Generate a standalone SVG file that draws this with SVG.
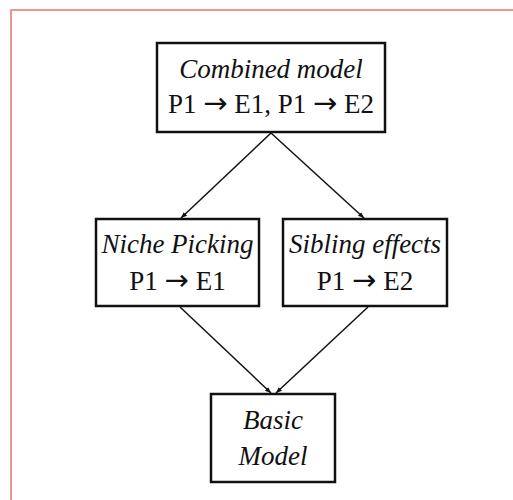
<svg xmlns="http://www.w3.org/2000/svg" width="513" height="500" viewBox="0 0 513 500">
<style>
.box{fill:#fff;stroke:#111;stroke-width:2.5}
.t{font-family:"Liberation Serif","Times New Roman",serif;font-size:27px;fill:#111;text-anchor:middle}
.i{font-style:italic}
.a{font-family:"DejaVu Sans",sans-serif;font-size:29px}
.c{stroke:#111;stroke-width:1.5;fill:none;marker-end:url(#ah)}
</style>
<defs>
<marker id="ah" viewBox="0 0 10 10" refX="10" refY="5" markerWidth="6" markerHeight="6" orient="auto" markerUnits="userSpaceOnUse">
<path d="M0,1 L10,5 L0,9 z" fill="#111"/>
</marker>
</defs>
<rect width="513" height="500" fill="#fff"/>
<path d="M11,500 V10 H513" fill="none" stroke="#e57373" stroke-width="1.5"/>
<g id="connectors">
<line class="c" x1="271" y1="133" x2="181" y2="218"/>
<line class="c" x1="271" y1="133" x2="364" y2="218"/>
<line class="c" x1="180" y1="307" x2="271" y2="393"/>
<line class="c" x1="368" y1="307" x2="276" y2="393"/>
</g>
<g id="combined">
<rect class="box" x="157" y="43" width="228" height="89"/>
<text class="t i" x="271" y="78">Combined model</text>
<text class="t" x="271" y="113">P1 <tspan class="a">→</tspan> E1, P1 <tspan class="a">→</tspan> E2</text>
</g>
<g id="niche">
<rect class="box" x="96" y="219" width="163" height="87"/>
<text class="t i" x="177.5" y="253">Niche Picking</text>
<text class="t" x="177.5" y="290">P1 <tspan class="a">→</tspan> E1</text>
</g>
<g id="sibling">
<rect class="box" x="283" y="219" width="164" height="87"/>
<text class="t i" x="365" y="253">Sibling effects</text>
<text class="t" x="365" y="290">P1 <tspan class="a">→</tspan> E2</text>
</g>
<g id="basic">
<rect class="box" x="211" y="394" width="124" height="88"/>
<text class="t i" x="273" y="429">Basic</text>
<text class="t i" x="273" y="465">Model</text>
</g>
</svg>
